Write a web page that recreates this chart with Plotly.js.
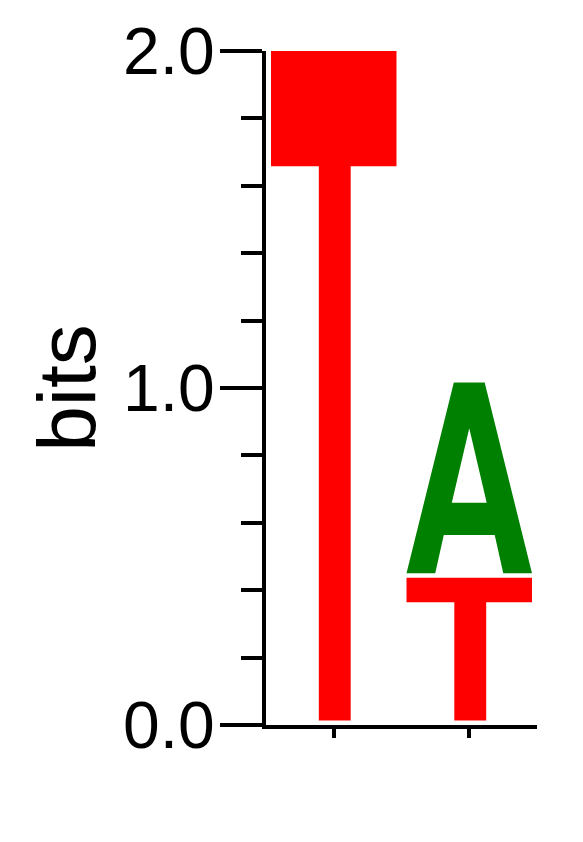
<!DOCTYPE html>
<html>
<head>
<meta charset="utf-8">
<script src="https://cdn.plot.ly/plotly-3.0.1.min.js"></script>
<style>html,body{margin:0;padding:0;background:#fff;}#chart{width:583px;height:842px;}</style>
</head>
<body>
<div id="chart"></div>
<script>
// ---- data (bits per letter at each position) ----
const positions = [1, 2];
const tickLabelsY = ["0.0", "1.0", "2.0"];
const tickValsY = [0, 1, 2];
const bitsA = [0.0, 0.579];
const bitsT = [2.0, 0.437];
const letters = ["A", "T"];

// ---- glyph templates in a unit box (styles) ----
const glyphs = {
  T: [[[0,0.828],[0,1],[1,1],[1,0.828],[0.635,0.828],[0.635,0],[0.381,0],[0.381,0.828]]],
  A: [
    [[0,0],[0.377,1],[0.623,1],[1,0],[0.771,0],[0.703,0.201],[0.297,0.201],[0.229,0]],
    [[0.5,0.761],[0.361,0.370],[0.639,0.370]]
  ]
};
const colors = {A: "#008000", T: "#ff0000"};
const letterWidth = 0.926;
const pad = 0.0135;

const heights = {A: bitsA, T: bitsT};
const traces = [];
positions.forEach((p, i) => {
  const col = letters.map(l => ({l, h: heights[l][i]})).filter(d => d.h > 0)
    .sort((a, b) => a.h - b.h);
  let y0 = 0;
  col.forEach(d => {
    const xs = [], ys = [];
    glyphs[d.l].forEach((poly, k) => {
      if (k > 0) { xs.push(null); ys.push(null); }
      poly.forEach(([gx, gy]) => {
        xs.push(p - letterWidth / 2 + gx * letterWidth);
        ys.push(y0 + pad + gy * (d.h - pad));
      });
      xs.push(xs[xs.length - poly.length]);
      ys.push(ys[ys.length - poly.length]);
    });
    traces.push({
      type: "scatter", mode: "lines", x: xs, y: ys,
      fill: "toself", fillcolor: colors[d.l],
      line: {width: 0, color: colors[d.l]},
      hoverinfo: "skip", name: d.l
    });
    y0 += d.h;
  });
});

const font = {family: "Liberation Sans, Arial, Helvetica, sans-serif", color: "#000"};
const layout = {
  width: 583, height: 842,
  margin: {l: 266, r: 46, t: 51, b: 117},
  paper_bgcolor: "#fff", plot_bgcolor: "#fff",
  showlegend: false,
  font: font,
  xaxis: {
    range: [0.5, 2.5], showgrid: false, zeroline: false,
    showline: true, linewidth: 4, linecolor: "#000",
    ticks: "outside", ticklen: 9, tickwidth: 4, tickcolor: "#000",
    tickvals: positions, showticklabels: false, fixedrange: true
  },
  yaxis: {
    range: [0, 2], showgrid: false, zeroline: false,
    showline: true, linewidth: 4, linecolor: "#000",
    ticks: "outside", ticklen: 42, tickwidth: 4, tickcolor: "#000",
    tickvals: tickValsY, ticktext: tickLabelsY,
    tickfont: {family: font.family, size: 66, color: "#000"},
    ticklabelstandoff: -8,
    minor: {dtick: 0.2, tick0: 0, ticks: "outside", ticklen: 21, tickwidth: 4, tickcolor: "#000", showgrid: false},
    title: {text: "bits", font: {family: font.family, size: 82, color: "#000"}, standoff: 1},
    fixedrange: true
  }
};
Plotly.newPlot("chart", traces, layout, {displayModeBar: false, staticPlot: true});
</script>
</body>
</html>
